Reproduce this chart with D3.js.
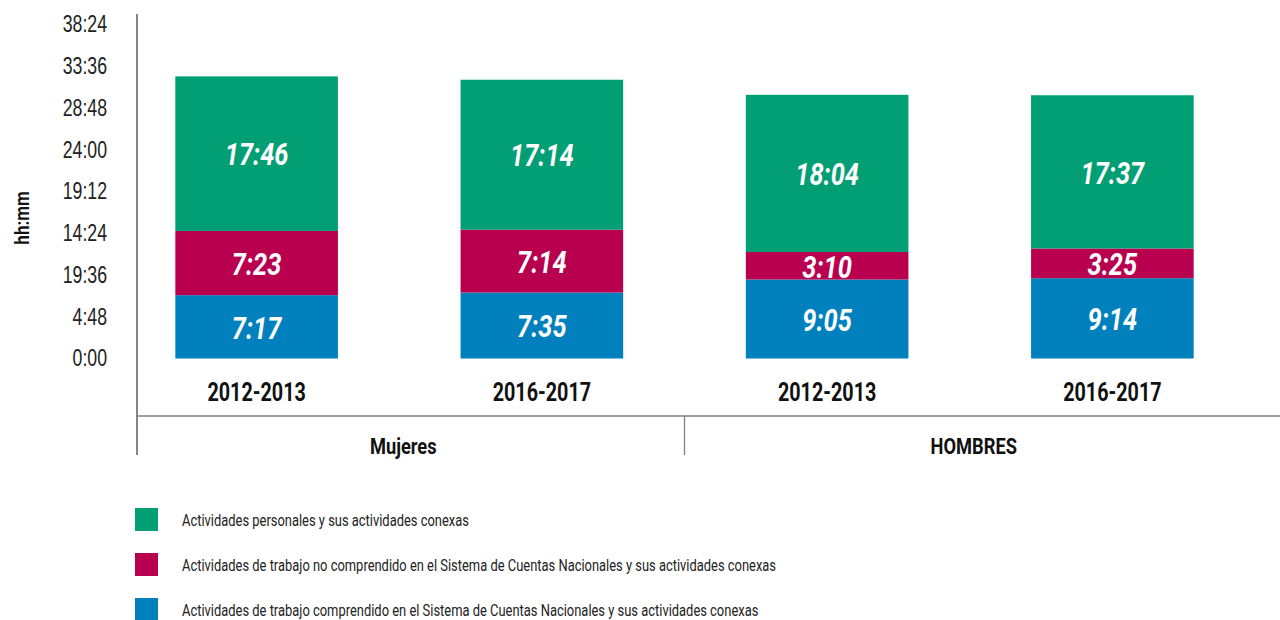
<!DOCTYPE html>
<html>
<head>
<meta charset="utf-8">
<script src="https://cdn.jsdelivr.net/npm/d3@7"></script>
<style>
  body { margin: 0; background: #fff; }
  svg { display: block; font-family: Roboto, "DejaVu Sans", sans-serif; }
</style>
</head>
<body>
<svg id="chart" width="1280" height="620"></svg>
<script>
// categories
const groups = ["Mujeres", "HOMBRES"];
const periods = ["2012-2013", "2016-2017"];

// series values (hh:mm), one entry per bar: Mujeres 2012, Mujeres 2016, Hombres 2012, Hombres 2016
const pagado = ["7:17", "7:35", "9:05", "9:14"];       // trabajo comprendido en el SCN
const noPagado = ["7:23", "7:14", "3:10", "3:25"];     // trabajo no comprendido en el SCN
const personal = ["17:46", "17:14", "18:04", "17:37"]; // actividades personales

// tick labels as printed on the picture (0.2-day steps)
const tickValues = [0, 4.8, 9.6, 14.4, 19.2, 24, 28.8, 33.6, 38.4];
const tickLabels = ["0:00", "4:48", "19:36", "14:24", "19:12", "24:00", "28:48", "33:36", "38:24"];

const seriesNames = [
  "Actividades de trabajo comprendido en el Sistema de Cuentas Nacionales y sus actividades conexas",
  "Actividades de trabajo no comprendido en el Sistema de Cuentas Nacionales y sus actividades conexas",
  "Actividades personales y sus actividades conexas"
];
const seriesColors = ["#0080bd", "#b8004f", "#029e74"];

const toHours = s => { const [h, m] = s.split(":").map(Number); return h + m / 60; };

// squeeze text horizontally to mimic the condensed face of the original
const condense = (sel, k) => sel.each(function () {
  const w = this.getComputedTextLength();
  d3.select(this).attr("textLength", w * k).attr("lengthAdjust", "spacingAndGlyphs");
});

const bars = [];
groups.forEach((g, gi) => periods.forEach((p, pi) => {
  const i = gi * periods.length + pi;
  bars.push({ key: g + "|" + p, group: g, period: p, vals: [pagado[i], noPagado[i], personal[i]] });
}));

const svg = d3.select("#chart");

const x = d3.scaleBand()
  .domain(bars.map(d => d.key))
  .range([114, 1255])
  .paddingInner(0.43)
  .paddingOuter(0.215);

const y = d3.scaleLinear().domain([0, 38.4]).range([358.5, 24.5]);

// stacked bars
bars.forEach(b => {
  let acc = 0;
  b.vals.forEach((v, si) => {
    const h0 = acc, h1 = acc + toHours(v);
    acc = h1;
    svg.append("rect")
      .attr("x", x(b.key))
      .attr("y", y(h1))
      .attr("width", x.bandwidth())
      .attr("height", y(h0) - y(h1))
      .attr("fill", seriesColors[si]);
    svg.append("text")
      .attr("x", x(b.key) + x.bandwidth() / 2)
      .attr("y", (y(h0) + y(h1)) / 2)
      .attr("dy", "0.38em")
      .attr("text-anchor", "middle")
      .style("font-size", "31px")
      .style("font-weight", "bold")
      .style("font-style", "italic")
      .style("fill", "#fff")
      .text(v)
      .call(condense, 0.82);
  });
  svg.append("text")
    .attr("x", x(b.key) + x.bandwidth() / 2)
    .attr("y", 392)
    .attr("dy", "0.36em")
    .attr("text-anchor", "middle")
    .style("font-size", "25px")
    .style("font-weight", "bold")
    .style("fill", "#111")
    .text(b.period)
    .call(condense, 0.79);
});

// y axis (labels only, plain line)
const yAxis = d3.axisLeft(y)
  .tickValues(tickValues)
  .tickFormat((d, i) => tickLabels[i])
  .tickSize(0)
  .tickPadding(0);
svg.append("g")
  .attr("transform", "translate(107,0)")
  .call(yAxis)
  .call(g => g.select(".domain").remove())
  .call(g => g.selectAll("text")
    .style("font-size", "23px").style("font-family", "inherit").style("fill", "#222")
    .call(condense, 0.77));

svg.append("line").attr("x1", 137).attr("x2", 137).attr("y1", 14).attr("y2", 455)
  .attr("stroke", "#444").attr("stroke-width", 1.3);
svg.append("line").attr("x1", 137).attr("x2", 1280).attr("y1", 416).attr("y2", 416)
  .attr("stroke", "#808080").attr("stroke-width", 1.3);

// group separators & labels
const groupBounds = groups.map(g => {
  const ks = bars.filter(b => b.group === g).map(b => b.key);
  return { g, x0: x(ks[0]), x1: x(ks[ks.length - 1]) + x.bandwidth() };
});
const sepX = (groupBounds[0].x1 + groupBounds[1].x0) / 2;
svg.append("line").attr("x1", sepX).attr("x2", sepX).attr("y1", 416).attr("y2", 455)
  .attr("stroke", "#808080").attr("stroke-width", 1.3);
groupBounds.forEach(gb => {
  svg.append("text")
    .attr("x", (gb.x0 + gb.x1) / 2 + 4)
    .attr("y", 446)
    .attr("dy", "0.36em")
    .attr("text-anchor", "middle")
    .style("font-size", "22px")
    .style("font-weight", "bold")
    .style("fill", "#111")
    .text(gb.g)
    .call(condense, 0.83);
});

// axis title
svg.append("text")
  .attr("transform", "translate(22,218) rotate(-90)")
  .attr("dy", "0.36em")
  .attr("text-anchor", "middle")
  .style("font-size", "20px")
  .style("font-weight", "bold")
  .style("fill", "#111")
  .text("hh:mm")
  .call(condense, 0.85);

// legend (personal on top)
const legendOrder = [2, 1, 0];
legendOrder.forEach((si, i) => {
  const ly = 508 + i * 45;
  svg.append("rect").attr("x", 135).attr("y", ly).attr("width", 23).attr("height", 23)
    .attr("fill", seriesColors[si]);
  svg.append("text")
    .attr("x", 182).attr("y", ly + 12)
    .attr("dy", "0.36em")
    .style("font-size", "17px")
    .style("fill", "#222")
    .text(seriesNames[si])
    .call(condense, 0.76);
});
</script>
</body>
</html>
